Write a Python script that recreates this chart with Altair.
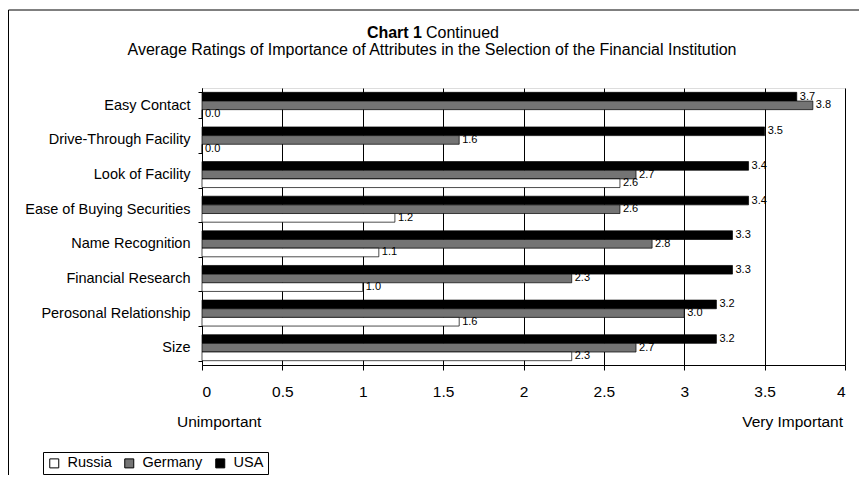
import altair as alt
import pandas as pd

categories = ["Easy Contact", "Drive-Through Facility", "Look of Facility",
              "Ease of Buying Securities", "Name Recognition", "Financial Research",
              "Perosonal Relationship", "Size"]
usa = [3.7, 3.5, 3.4, 3.4, 3.3, 3.3, 3.2, 3.2]
germany = [3.8, 1.6, 2.7, 2.6, 2.8, 2.3, 3.0, 2.7]
russia = [0.0, 0.0, 2.6, 1.2, 1.1, 1.0, 1.6, 2.3]
countries = ["Russia", "Germany", "USA"]
x_ticks = [0, 0.5, 1, 1.5, 2, 2.5, 3, 3.5, 4]

rows = []
for i, c in enumerate(categories):
    rows.append({"Attribute": c, "Country": "USA", "Value": usa[i]})
    rows.append({"Attribute": c, "Country": "Germany", "Value": germany[i]})
    rows.append({"Attribute": c, "Country": "Russia", "Value": russia[i]})
df = pd.DataFrame(rows)

FONT = "Liberation Sans"

base = alt.Chart(df)

y_enc = alt.Y("Attribute:N", sort=categories,
              scale=alt.Scale(paddingInner=0.25, paddingOuter=0.125),
              axis=alt.Axis(title=None, tickBand="extent", tickSize=4, tickColor="black",
                            domainColor="black", labelFontSize=14.5, labelFont=FONT,
                            labelColor="black", labelPadding=8, grid=False))
yoff = alt.YOffset("Country:N", sort=["USA", "Germany", "Russia"],
                   scale=alt.Scale(paddingInner=0, paddingOuter=0))
x_enc = alt.X("Value:Q", scale=alt.Scale(domain=[0, 4], nice=False),
              axis=alt.Axis(title=None, values=x_ticks, format=".1~f", grid=True,
                            gridColor="black", gridWidth=1, tickSize=5, tickColor="black",
                            domainColor="black", labelFontSize=15.5, labelFont=FONT,
                            labelColor="black", labelPadding=14))

bars = base.mark_bar(stroke="black", strokeWidth=0.7).encode(
    y=y_enc, yOffset=yoff, x=x_enc,
    color=alt.Color("Country:N",
                    scale=alt.Scale(domain=countries, range=["white", "#747474", "black"]),
                    legend=alt.Legend(title=None, orient="none", legendX=-159, legendY=364,
                                      direction="horizontal", strokeColor="black",
                                      padding=4, symbolType="square", symbolSize=81,
                                      symbolStrokeColor="black", symbolStrokeWidth=1,
                                      labelFontSize=14.5, labelFont=FONT, labelColor="black",
                                      labelOffset=6, columnPadding=10, symbolOffset=0))
)

labels = base.mark_text(align="left", dx=3, dy=0, fontSize=11, font=FONT,
                        color="black").encode(
    y=alt.Y("Attribute:N", sort=categories), yOffset=yoff,
    x=alt.X("Value:Q"), text=alt.Text("Value:Q", format=".1f"))

one = pd.DataFrame({"k": [0]})
frame = alt.Chart(one).mark_rect(fill="transparent", stroke="black", strokeWidth=1).encode(
    x=alt.value(-193.5), x2=alt.value(700), y=alt.value(-78), y2=alt.value(420))

t1 = alt.Chart(one).mark_text(text="Chart 1", fontWeight="bold", fontSize=16, font=FONT,
                              align="right", baseline="middle", color="black").encode(
    x=alt.value(220), y=alt.value(-55))
t2 = alt.Chart(one).mark_text(text="Continued", fontSize=16, font=FONT,
                              align="left", baseline="middle", color="black").encode(
    x=alt.value(224), y=alt.value(-55))
t3 = alt.Chart(one).mark_text(
    text="Average Ratings of Importance of Attributes in the Selection of the Financial Institution",
    fontSize=16, font=FONT, align="center", baseline="middle", color="black").encode(
    x=alt.value(230), y=alt.value(-38))
low = alt.Chart(one).mark_text(text="Unimportant", fontSize=15.5, font=FONT, align="left",
                               baseline="middle", color="black").encode(
    x=alt.value(-25), y=alt.value(334))
high = alt.Chart(one).mark_text(text="Very Important", fontSize=15.5, font=FONT, align="right",
                                baseline="middle", color="black").encode(
    x=alt.value(641), y=alt.value(334))

chart = alt.layer(frame, bars, labels, t1, t2, t3, low, high).properties(
    width=643, height=277,
    autosize=alt.AutoSizeParams(type="none"),
    padding={"left": 194, "top": 80, "right": 14, "bottom": 110},
).configure_view(stroke="#808080", strokeWidth=1).configure(background="white")

chart.save("out.html", embed_options={"renderer": "svg", "actions": False})
